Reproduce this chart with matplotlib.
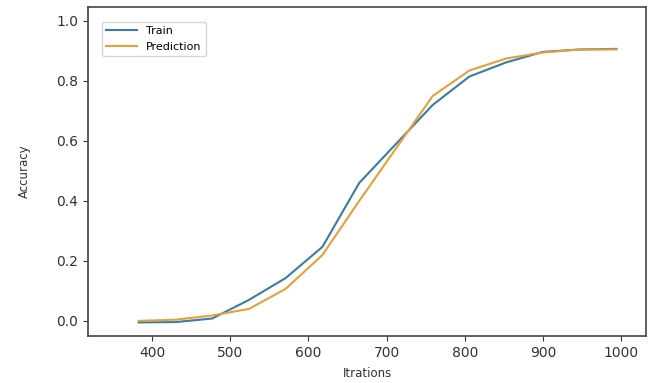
import numpy as np
import matplotlib
matplotlib.use("Agg")
import matplotlib.pyplot as plt

iterations = np.array([383, 430, 477, 524, 571, 618, 665, 712, 759, 806, 853, 900, 947, 994])
train = np.array([-0.005, -0.004, 0.008, 0.07, 0.143, 0.247, 0.46, 0.59, 0.72, 0.815, 0.862, 0.897, 0.905, 0.907])
prediction = np.array([0.0, 0.004, 0.018, 0.04, 0.107, 0.22, 0.40, 0.575, 0.75, 0.835, 0.875, 0.895, 0.905, 0.905])

fig = plt.figure(figsize=(6.56, 3.83), dpi=100)
ax = fig.add_axes([0.134, 0.123, 0.851, 0.859])

ax.plot(iterations, train, color="#3a7ca5", lw=1.5, label="Train")
ax.plot(iterations, prediction, color="#e5a03a", lw=1.5, label="Prediction")

ax.set_xlim(318, 1032)
ax.set_ylim(-0.05, 1.047)
ax.set_xticks([400, 500, 600, 700, 800, 900, 1000])
ax.set_yticks([0.0, 0.2, 0.4, 0.6, 0.8, 1.0])
ax.tick_params(labelsize=10, colors="#333333")
for s in ax.spines.values():
    s.set_color("#444444")
    s.set_linewidth(1.2)

ax.set_xlabel("Itrations", fontsize=8.5, color="#333333", labelpad=5)
ax.set_ylabel("Accuracy", fontsize=8.5, color="#333333", labelpad=18)
ax.legend(loc="upper left", bbox_to_anchor=(0.025, 0.955), borderaxespad=0,
          fontsize=8, handlelength=2.8, framealpha=0.8)

plt.savefig("out.png")
